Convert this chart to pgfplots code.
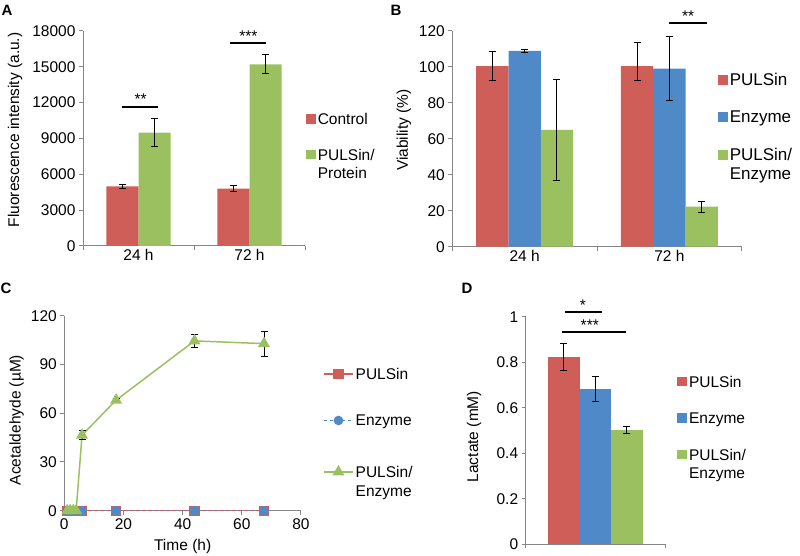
\documentclass[border=0pt]{standalone}
\usepackage{fontspec}
\setmainfont{Liberation Sans}
\usepackage{pgfplots}
\pgfplotsset{compat=1.18}

\definecolor{cred}{RGB}{208,94,88}
\definecolor{cblue}{RGB}{79,137,199}
\definecolor{cgreen}{RGB}{155,192,95}
\definecolor{axgray}{RGB}{134,134,134}

\newcommand{\fs}{\fontsize{15.5}{18.6}\selectfont}
\newcommand{\fsb}{\fontsize{17}{18.6}\selectfont}
\newcommand{\lgd}[1]{\begin{tabular}[t]{@{}l@{}}#1\end{tabular}}

\pgfplotsset{
  myaxis/.style={
    scale only axis,
    axis x line*=bottom,
    axis y line*=left,
    axis line style={axgray, line width=1pt},
    tick style={axgray, line width=1pt},
    tick align=outside,
    major tick length=4pt,
    tick label style={font=\fs, black},
    label style={font=\fs},
    /pgf/number format/assume math mode=true,
    /pgf/number format/1000 sep={},
    scaled y ticks=false,
    enlargelimits=false,
    ymin=0,
    clip=false,
    legend style={draw=none, fill=none, font=\fs, inner sep=0pt,
      cells={anchor=base west, inner xsep=2.8pt, inner ysep=0pt}},
  },
  myerr/.style={error bars/.cd, y dir=both, y explicit,
    error bar style={draw=black, line width=1pt},
    error mark options={draw=black, rotate=90, mark size=3.5pt, line width=1pt}},
  barleg/.style={every axis plot post/.append style={legend image code/.code={\fill[####1] (0pt,0.9pt) rectangle (9.6pt,10.5pt);}}},
}

\begin{document}
\begin{tikzpicture}
\useasboundingbox (0,0) rectangle (800pt,556pt);

% ---------------- Panel A ----------------
\begin{axis}[myaxis,
  at={(83pt,310pt)}, anchor=south west, width=222pt, height=215pt,
  xmin=-0.5, xmax=1.5, ymax=18000, ytick={0,3000,...,18000},
  xtick={-0.5,0.5,1.5}, xticklabels={},
  extra x ticks={0,1}, extra x tick labels={24 h,72 h},
  extra x tick style={major tick length=0pt},
  ybar=0pt, bar width=32pt, barleg,
  ylabel={Fluorescence intensity (a.u.)},
  ylabel style={at={(axis description cs:-0.306,0.54)}, anchor=center},
  legend style={at={(axis description cs:1.0045,0.636)}, anchor=north west, row sep=17.4pt},
]
\addplot[fill=cred, draw=none, myerr] coordinates {(0,5000) +- (0,150) (1,4800) +- (0,250)};
\addplot[fill=cgreen, draw=none, myerr] coordinates {(0,9500) +- (0,1200) (1,15200) +- (0,800)};
\addlegendentry{\lgd{Control}}
\addlegendentry{\lgd{PULSin/\\Protein}}
\draw[black, line width=2pt] (axis cs:-0.15,11640) -- (axis cs:0.18,11640);
\node[font=\fs, anchor=base, inner sep=0pt] at (axis cs:0.02,11640) [yshift=2pt] {**};
\draw[black, line width=2pt] (axis cs:0.826,16970) -- (axis cs:1.15,16970);
\node[font=\fs, anchor=base, inner sep=0pt] at (axis cs:0.99,16970) [yshift=2pt] {***};
\end{axis}

% ---------------- Panel B ----------------
\begin{axis}[myaxis,
  at={(452.3pt,309.3pt)}, anchor=south west, width=289.4pt, height=216pt,
  xmin=-0.5, xmax=1.5, ymax=120, ytick={0,20,...,120},
  xtick={-0.5,0.5,1.5}, xticklabels={},
  extra x ticks={0,1}, extra x tick labels={24 h,72 h},
  extra x tick style={major tick length=0pt},
  ybar=0pt, bar width=32.3pt, barleg,
  ylabel={Viability (\%)},
  ylabel style={at={(axis description cs:-0.167,0.54)}, anchor=center},
  legend style={at={(axis description cs:0.918,0.817)}, anchor=north west, row sep=19pt, font=\fsb},
]
\addplot[fill=cred, draw=none, myerr] coordinates {(0,100.3) +- (0,8) (1,100.3) += (0,13.4) -= (0,7.9)};
\addplot[fill=cblue, draw=none, myerr] coordinates {(0,108.8) +- (0,0.8) (1,98.9) +- (0,17.8)};
\addplot[fill=cgreen, draw=none, myerr] coordinates {(0,64.9) +- (0,28) (1,22.2) +- (0,3)};
\addlegendentry{\lgd{PULSin}}
\addlegendentry{\lgd{Enzyme}}
\addlegendentry{\lgd{PULSin/\\Enzyme}}
\draw[black, line width=2pt] (axis cs:1.0,124.1) -- (axis cs:1.258,124.1);
\node[font=\fs, anchor=base, inner sep=0pt] at (axis cs:1.13,124.1) [yshift=2pt] {**};
\end{axis}

% ---------------- Panel C ----------------
\begin{axis}[myaxis,
  at={(64.3pt,45.3pt)}, anchor=south west, width=236.7pt, height=195pt,
  xmin=0, xmax=80, ymax=120, xtick={0,20,...,80}, ytick={0,30,...,120},
  xlabel={Time (h)}, ylabel={Acetaldehyde (µM)},
  xlabel style={at={(axis description cs:0.5,-0.185)}, anchor=center},
  ylabel style={at={(axis description cs:-0.201,0.465)}, anchor=center},
  legend image code/.code={\draw[mark repeat=2, mark phase=2, #1] plot coordinates {(0pt,5.5pt) (14.5pt,5.5pt) (29pt,5.5pt)};},
  legend style={at={(axis description cs:1.093,0.751)}, anchor=north west, row sep=28pt,
    cells={anchor=base west, inner xsep=5.5pt, inner ysep=0pt}},
]
\addplot[cred, line width=1.5pt, mark=square*, mark size=4.3pt, mark options={solid, fill=cred, draw=cred}]
  coordinates {(1,0) (2,0) (3,0) (4,0) (6,0) (17.5,0) (44,0) (67.5,0)};
\addplot[cblue, dashed, line width=1.5pt, mark=*, mark size=4pt, mark options={solid, fill=cblue, draw=cblue}]
  coordinates {(1,0) (2,0) (3,0) (4,0) (6,0) (17.5,0) (44,0) (67.5,0)};
\addplot[cgreen, line width=1.5pt, mark=triangle*, mark size=5.5pt, mark options={solid, fill=cgreen, draw=cgreen}, myerr]
  coordinates {(1,0) +- (0,0) (2,0) +- (0,0) (3,0) +- (0,0) (4,0) +- (0,0)
    (6,46.5) +- (0,2.7) (17.5,68) +- (0,1) (44,104.5) +- (0,4) (67.5,102.8) +- (0,7.7)};
\addlegendentry{\lgd{PULSin}}
\addlegendentry{\lgd{Enzyme}}
\addlegendentry{\lgd{\rule{0pt}{18pt}PULSin/\\Enzyme}}
\end{axis}

% ---------------- Panel D ----------------
\begin{axis}[myaxis,
  at={(525.7pt,11.7pt)}, anchor=south west, width=139.3pt, height=227.6pt,
  xmin=-0.5, xmax=0.5, ymax=1, ytick={0,0.2,0.4,0.6,0.8,1},
  yticklabel style={/pgf/number format/fixed},
  xtick={-0.5,0.5}, xticklabels={},
  ybar=0pt, bar width=31.5pt, barleg,
  ylabel={Lactate (mM)},
  ylabel style={at={(axis description cs:-0.371,0.473)}, anchor=center},
  legend style={at={(axis description cs:1.088,0.757)}, anchor=north west, row sep=18pt},
]
\addplot[fill=cred, draw=none, myerr] coordinates {(0,0.824) +- (0,0.06)};
\addplot[fill=cblue, draw=none, myerr] coordinates {(0,0.684) +- (0,0.055)};
\addplot[fill=cgreen, draw=none, myerr] coordinates {(0,0.503) +- (0,0.016)};
\addlegendentry{\lgd{PULSin}}
\addlegendentry{\lgd{Enzyme}}
\addlegendentry{\lgd{PULSin/\\Enzyme}}
\draw[black, line width=2pt] (axis cs:-0.218,1.019) -- (axis cs:0.046,1.019);
\node[font=\fs, anchor=base, inner sep=0pt] at (axis cs:-0.09,1.019) [yshift=2pt] {*};
\draw[black, line width=2pt] (axis cs:-0.237,0.931) -- (axis cs:0.218,0.931);
\node[font=\fs, anchor=base, inner sep=0pt] at (axis cs:-0.04,0.931) [yshift=2pt] {***};
\end{axis}

% panel letters
\node[font=\bfseries\fontsize{15}{17}\selectfont] at (7pt,546pt) {A};
\node[font=\bfseries\fontsize{15}{17}\selectfont] at (396pt,546pt) {B};
\node[font=\bfseries\fontsize{15}{17}\selectfont] at (6pt,268pt) {C};
\node[font=\bfseries\fontsize{15}{17}\selectfont] at (467pt,268pt) {D};
\end{tikzpicture}
\end{document}
